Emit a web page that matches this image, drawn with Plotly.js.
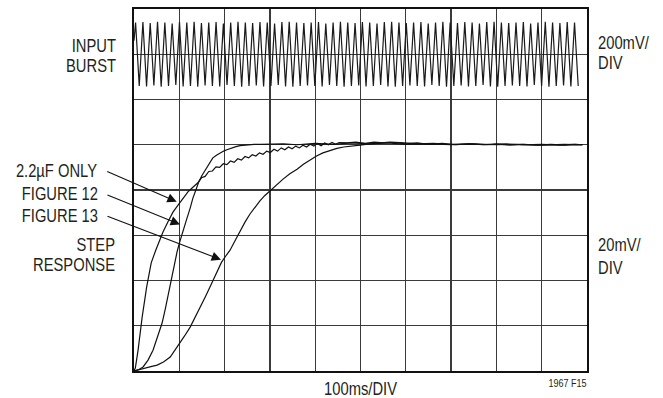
<!DOCTYPE html>
<html>
<head>
<meta charset="utf-8">
<script src="https://cdn.plot.ly/plotly-3.0.1.min.js"></script>
<style>html,body{margin:0;padding:0;background:#fff;}#chart{width:663px;height:398px;}</style>
</head>
<body>
<div id="chart"></div>
<script>
// time in ms (100 ms/DIV), amplitude in screen divisions
const burstStartMs = 3.5;
const burstPeriodMs = 16.15;
const burstHigh = [7.70,7.71,7.69,7.72,7.70,7.68,7.71,7.70,7.72,7.69,7.70,7.71,7.68,7.70,7.72,7.70,7.69,7.71,7.70,7.68,7.71,7.72,7.70,7.69,7.70,7.71,7.68,7.70,7.72,7.70,7.69,7.71,7.70,7.68,7.71,7.72,7.70,7.69,7.70,7.71,7.68,7.70,7.72,7.70,7.69,7.71,7.70,7.68,7.71,7.72,7.70,7.69,7.70,7.71,7.68,7.70,7.72,7.70,7.69,7.71,7.70];
const burstLow  = [6.30,6.29,6.31,6.28,6.30,6.32,6.29,6.30,6.28,6.31,6.30,6.29,6.32,6.30,6.28,6.30,6.31,6.29,6.30,6.32,6.29,6.28,6.30,6.31,6.30,6.29,6.32,6.30,6.28,6.30,6.31,6.29,6.30,6.32,6.29,6.28,6.30,6.31,6.30,6.29,6.32,6.30,6.28,6.30,6.31,6.29,6.30,6.32,6.29,6.28,6.30,6.31,6.30,6.29,6.32,6.30,6.28,6.30,6.31,6.29,6.30];

const onlyCapT = [0,3,9,18,28,38,48,56,64,75,86,94,102,110,119,130,141,149,157,165,173,181,189,197,205,213,221,229,237,245,253,261,269,277,285,293,301,309,317,325,333,341,349,357,365,373,381,389,397,405,413,421,429,437,445,453,470,490,510,530,550,575,600,625,650,680,710,740,770,800,830,860,890,920,950,975,990];
const onlyCapV = [0,0.07,0.46,1.19,1.86,2.39,2.67,2.88,3.07,3.30,3.51,3.62,3.73,3.84,3.96,4.06,4.16,4.27,4.30,4.41,4.42,4.51,4.50,4.58,4.56,4.64,4.61,4.69,4.66,4.74,4.71,4.78,4.75,4.82,4.79,4.86,4.83,4.90,4.86,4.93,4.89,4.95,4.91,4.97,4.93,4.99,4.95,5.01,4.97,5.03,4.98,5.04,5.00,5.05,5.01,5.05,5.04,5.06,5.03,5.06,5.04,5.05,5.02,5.04,5.01,5.03,5.00,5.02,5.00,5.02,4.99,5.01,4.99,5.01,4.99,5.01,5.00];

const fig12T = [0,10,20,31,42,52,62,69,75,81,86,91,95,100,106,112,117,124,130,137,143,150,157,165,174,182,190,198,205,215,225,234,250,265,280,300,330,360,400,440,480,520,560,600,650,700,750,800,850,900,950,990];
const fig12V = [0,0.03,0.09,0.24,0.46,0.74,1.06,1.37,1.68,1.95,2.19,2.42,2.63,2.82,3.00,3.19,3.38,3.60,3.82,4.01,4.18,4.32,4.44,4.58,4.71,4.77,4.82,4.86,4.89,4.93,4.96,4.98,5.00,5.01,5.01,5.01,5.02,5.00,5.03,5.01,5.04,5.02,5.04,5.01,5.02,5.00,5.02,5.00,5.01,4.99,5.01,5.00];

const fig13T = [0,10,20,35,51,65,80,90,102,112,124,135,146,157,168,177,185,193,201,212,223,234,245,256,267,278,289,300,315,329,344,360,374,389,403,417,433,448,463,477,499,520,543,565,587,610,631,660,700,740,780,820,860,900,940,970,990];
const fig13V = [0,0.03,0.06,0.09,0.13,0.20,0.31,0.45,0.62,0.78,0.97,1.18,1.41,1.63,1.86,2.06,2.25,2.40,2.52,2.67,2.88,3.09,3.29,3.47,3.62,3.76,3.88,3.98,4.12,4.24,4.36,4.46,4.57,4.67,4.75,4.82,4.88,4.92,4.95,4.96,4.99,5.02,5.04,5.06,5.05,5.04,5.02,5.03,5.01,5.02,5.00,5.02,5.00,5.01,4.99,5.01,5.00];

// build burst polyline from the read extremes
const burstT = [0], burstV = [7.3];
const n = Math.min(burstHigh.length, burstLow.length);
for (let k = 0; k < n; k++) {
  burstT.push(burstStartMs + (2*k) * burstPeriodMs/2); burstV.push(burstHigh[k]);
  burstT.push(burstStartMs + (2*k+1) * burstPeriodMs/2); burstV.push(burstLow[k]);
}

const lineStyle = {color:'#111', width:1.2};
const traces = [
  {x:burstT, y:burstV, mode:'lines', line:{color:'#1a1a1a', width:1.2}, hoverinfo:'skip'},
  {x:onlyCapT, y:onlyCapV, mode:'lines', line:lineStyle, hoverinfo:'skip'},
  {x:fig12T, y:fig12V, mode:'lines', line:lineStyle, hoverinfo:'skip'},
  {x:fig13T, y:fig13V, mode:'lines', line:lineStyle, hoverinfo:'skip'}
];

const W = 663, H = 398, L = 134, R = 587, T = 9, B = 371;
const px = v => (v - L) / (R - L);
const py = v => (B - v) / (B - T);
const FONT = 'Liberation Sans, Arial, sans-serif';
function lab(text, x, y, anchor, size) {
  return {text:text, xref:'paper', yref:'paper', x:px(x), y:py(y), xanchor:anchor, yanchor:'middle',
          showarrow:false, font:{family:FONT, size:size||18, color:'#231f20'}};
}
function arrow(hx, hy, ax, ay) {
  return {text:'', x:hx, y:hy, xref:'x', yref:'y', ax:ax, ay:ay, showarrow:true,
          arrowhead:2, arrowsize:1.7, arrowwidth:1.1, arrowcolor:'#111', standoff:0, startstandoff:0};
}
const annotations = [
  lab('INPUT', 118, 46.5, 'right'),
  lab('BURST', 118, 65.5, 'right'),
  lab('200mV/', 596, 43, 'left'),
  lab('DIV', 596, 63, 'left'),
  lab('2.2µF ONLY', 99, 171, 'right'),
  lab('FIGURE 12', 100, 194, 'right'),
  lab('FIGURE 13', 100, 216, 'right'),
  lab('STEP', 117, 245, 'right'),
  lab('RESPONSE', 117, 265, 'right'),
  lab('20mV/', 596, 245, 'left'),
  lab('DIV', 596, 268, 'left'),
  lab('100ms/DIV', 360.5, 389, 'center'),
  lab('1967 F15', 588, 383, 'right', 11),
  arrow(94.3, 3.74, -71, -31),
  arrow(101.5, 3.24, -74, -30),
  arrow(192, 2.46, -115, -44)
];

const axisBase = {showgrid:true, gridcolor:'#3a3a3a', gridwidth:1.3, zeroline:false,
  showticklabels:false, ticks:'', showline:true, mirror:true, linecolor:'#111', linewidth:2, fixedrange:true};
const layout = {
  width:W, height:H, margin:{l:L, r:W-R, t:T, b:H-B, pad:0},
  paper_bgcolor:'#fff', plot_bgcolor:'#fff', showlegend:false,
  xaxis:Object.assign({}, axisBase, {range:[0,1000], dtick:100, tick0:0}),
  yaxis:Object.assign({}, axisBase, {range:[0,8], dtick:1, tick0:0}),
  annotations:annotations
};
Plotly.newPlot('chart', traces, layout, {displayModeBar:false, staticPlot:true}).then(function(gd){
  // condense label text horizontally (the reference uses a narrow typeface)
  const anchors = layout.annotations;
  const groups = gd.querySelectorAll('.annotation');
  groups.forEach(function(g, i){
    const a = anchors[i];
    if (!a || a.showarrow) return;
    const t = g.querySelector('text.annotation-text');
    if (!t || !t.textContent) return;
    const bb = t.getBBox();
    let ax = bb.x + bb.width/2;
    if (a.xanchor === 'right') ax = bb.x + bb.width;
    if (a.xanchor === 'left') ax = bb.x;
    const s = 0.82;
    t.setAttribute('transform', 'translate(' + ax + ',0) scale(' + s + ',1) translate(' + (-ax) + ',0)');
  });
});
</script>
</body>
</html>
